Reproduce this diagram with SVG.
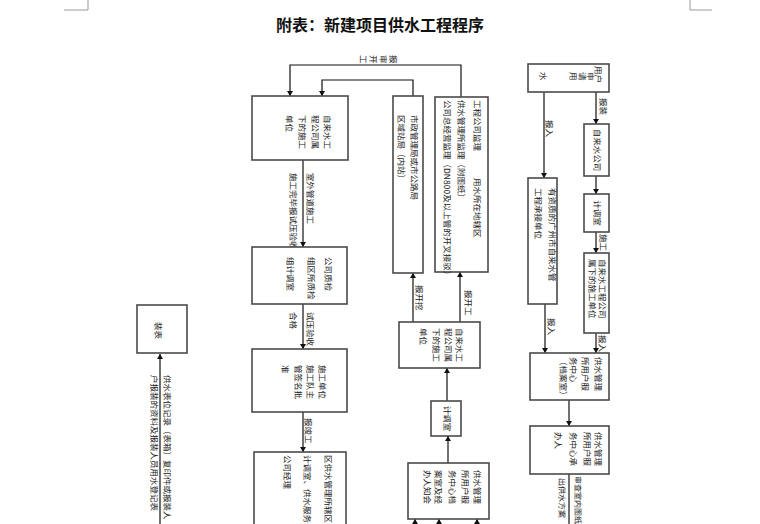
<svg xmlns="http://www.w3.org/2000/svg" width="760" height="524" viewBox="0 0 760 524">
<style>
.bx{fill:#fff;stroke:#4a4a4a;stroke-width:1.6}
.c{fill:none;stroke:#111;stroke-width:1.2}
.t{font-family:"Noto Sans CJK SC","Liberation Sans",sans-serif;font-size:8.5px;fill:#222;text-rendering:geometricPrecision}
.s{font-size:8px}
.title{font-family:"Noto Sans CJK SC","Liberation Sans",sans-serif;font-size:16px;font-weight:bold;fill:#111}
.corner{fill:none;stroke:#999;stroke-width:1}
</style>
<defs>
<marker id="ah" markerUnits="userSpaceOnUse" markerWidth="6" markerHeight="6" refX="5" refY="3" orient="auto">
<path d="M0,0 L5,3 L0,6 z" fill="#111"/>
</marker>
</defs>
<rect width="760" height="524" fill="#fff"/>
<path class="corner" d="M88,0 V10 H64 M690,0 V10 H712"/>
<text class="title" x="380" y="31" text-anchor="middle">附表：新建项目供水工程程序</text>

<g id="connectors">
<path class="c" d="M461,97 V65 H290 V96" marker-end="url(#ah)"/>
<path class="c" d="M413,96 V80 H322 V96" marker-end="url(#ah)"/>
<path class="c" d="M303,160 V247" marker-end="url(#ah)"/>
<path class="c" d="M303,304 V349" marker-end="url(#ah)"/>
<path class="c" d="M303,412 V452" marker-end="url(#ah)"/>
<path class="c" d="M413,322 V273" marker-end="url(#ah)"/>
<path class="c" d="M460,322 V272" marker-end="url(#ah)"/>
<path class="c" d="M447,401 V368" marker-end="url(#ah)"/>
<path class="c" d="M448,463 V436" marker-end="url(#ah)"/>
<path class="c" d="M415,526 V519" marker-end="url(#ah)"/>
<path class="c" d="M439,526 V519" marker-end="url(#ah)"/>
<path class="c" d="M477,526 V519" marker-end="url(#ah)"/>
<path class="c" d="M544,92 V178" marker-end="url(#ah)"/>
<path class="c" d="M596,92 V124" marker-end="url(#ah)"/>
<path class="c" d="M596,176 V194" marker-end="url(#ah)"/>
<path class="c" d="M596,232 V253" marker-end="url(#ah)"/>
<path class="c" d="M545,304 V353" marker-end="url(#ah)"/>
<path class="c" d="M596,333 V353" marker-end="url(#ah)"/>
<path class="c" d="M569,400 V426" marker-end="url(#ah)"/>
<path class="c" d="M569,474 V526"/>
<path class="c" d="M160,526 V354" marker-end="url(#ah)"/>
<text class="t" transform="translate(390,55) rotate(90)"><tspan x="0" y="0">报</tspan><tspan x="0" y="10">审</tspan><tspan x="0" y="20">开</tspan><tspan x="0" y="30">工</tspan></text>
<text class="t" transform="translate(307,173) rotate(90)">室外管道施工</text>
<text class="t" transform="translate(290,173) rotate(90)">施工完毕报试压验收</text>
<text class="t" transform="translate(307,312) rotate(90)">试压验收</text>
<text class="t" transform="translate(290,312) rotate(90)">合格</text>
<text class="t" transform="translate(305,418) rotate(90)">报竣工</text>
<text class="t" transform="translate(416,285) rotate(90)">报开挖</text>
<text class="t" transform="translate(465,290) rotate(90)">报开工</text>
<text class="t" transform="translate(546,120) rotate(90)">报入</text>
<text class="t" transform="translate(600,98) rotate(90)">报装</text>
<text class="t" transform="translate(600,234) rotate(90)">施工</text>
<text class="t" transform="translate(548,318) rotate(90)">报入</text>
<text class="t" transform="translate(599,335) rotate(90)">报入</text>
<text class="t s" transform="translate(575,476) rotate(90)">审查室内图纸</text>
<text class="t s" transform="translate(559,478) rotate(90)">出供水方案</text>
<text class="t" transform="translate(164,375) rotate(90)">供水表位记录（表箱）复印件或报装人</text>
<text class="t" transform="translate(151,375) rotate(90)">户报装的资料及报装人员用水登记表</text>
</g>

<g id="node-a">
<rect class="bx" x="252" y="96" width="96" height="64"/>
<text class="t" transform="translate(324,115) rotate(90)"><tspan x="0" y="0">自来水工</tspan><tspan x="0" y="12">程公司属</tspan><tspan x="0" y="25">下的施工</tspan><tspan x="0" y="38">单位</tspan></text>
</g>
<g id="node-b">
<rect class="bx" x="252" y="247" width="95" height="57"/>
<text class="t" transform="translate(325,257) rotate(90)"><tspan x="0" y="0">公司质检</tspan><tspan x="0" y="17">组区所质检</tspan><tspan x="0" y="38">组计调室</tspan></text>
</g>
<g id="node-c">
<rect class="bx" x="252" y="349" width="95" height="63"/>
<text class="t" transform="translate(318.5,365) rotate(90)"><tspan x="0" y="0">施工单位</tspan><tspan x="0" y="11.7">施工队主</tspan><tspan x="0" y="23.4">管签名批</tspan><tspan x="0" y="36.7">准</tspan></text>
</g>
<g id="node-l">
<rect class="bx" x="254" y="452" width="92" height="80"/>
<text class="t" transform="translate(325,455) rotate(90)"><tspan x="0" y="0">区供水管理所辖区</tspan><tspan x="0" y="21">计调室、供水服务</tspan><tspan x="0" y="41">公司经理</tspan></text>
</g>
<g id="node-d">
<rect class="bx" x="393" y="96" width="30" height="177"/>
<text class="t" transform="translate(411,115) rotate(90)"><tspan x="0" y="0">市政管理局或市公路局</tspan><tspan x="0" y="12.6">区域站局（内站）</tspan></text>
</g>
<g id="node-e">
<rect class="bx" x="435" y="97" width="53" height="175"/>
<text class="t" transform="translate(473.5,100) rotate(90)"><tspan x="0" y="0">工程公司监理</tspan><tspan x="78" y="0">用水所在地辖区</tspan><tspan x="0" y="15.7">供水管理所监理（附图纸）</tspan><tspan x="0" y="30">公司总经营监理（DN800及以上管的开叉接驳）</tspan></text>
</g>
<g id="node-k">
<rect class="bx" x="399" y="322" width="81" height="46"/>
<text class="t" transform="translate(455.8,328) rotate(90)"><tspan x="0" y="0">自来水工</tspan><tspan x="0" y="11">程公司属</tspan><tspan x="0" y="23">下的施工</tspan><tspan x="0" y="36">单位</tspan></text>
</g>
<g id="node-jd1">
<rect class="bx" x="431" y="401" width="30" height="35"/>
<text class="t" text-anchor="middle" transform="translate(443.5,418.5) rotate(90)">计调室</text>
</g>
<g id="node-j">
<rect class="bx" x="408" y="463" width="81" height="56"/>
<text class="t" transform="translate(473.5,470) rotate(90)"><tspan x="0" y="0">供水管理</tspan><tspan x="0" y="11.7">所用户服</tspan><tspan x="0" y="25">务中心档</tspan><tspan x="0" y="38.4">案室及经</tspan><tspan x="0" y="50">办人知会</tspan></text>
</g>
<g id="node-user">
<rect class="bx" x="528" y="64" width="81" height="28"/>
<text class="t" transform="translate(595,66) rotate(90)"><tspan x="0" y="0">用户</tspan><tspan x="6" y="8">申</tspan><tspan x="6" y="16">请</tspan><tspan x="6" y="25">用</tspan><tspan x="6" y="55">水</tspan></text>
</g>
<g id="node-zls">
<rect class="bx" x="584" y="124" width="25" height="52"/>
<text class="t" text-anchor="middle" transform="translate(594,150) rotate(90)">自来水公司</text>
</g>
<g id="node-jd2">
<rect class="bx" x="584" y="194" width="25" height="38"/>
<text class="t" text-anchor="middle" transform="translate(594,213) rotate(90)">计调室</text>
</g>
<g id="node-g">
<rect class="bx" x="584" y="253" width="25" height="80"/>
<text class="t" transform="translate(599,259) rotate(90)"><tspan x="0" y="0">自来水工程公司</tspan><tspan x="0" y="10">属下的施工单位</tspan></text>
</g>
<g id="node-f">
<rect class="bx" x="528" y="178" width="29" height="126"/>
<text class="t" transform="translate(549,188) rotate(90)"><tspan x="0" y="0">有资质的广州市自来水管</tspan><tspan x="0" y="14">工程承接单位</tspan></text>
</g>
<g id="node-h">
<rect class="bx" x="530" y="353" width="79" height="47"/>
<text class="t" transform="translate(595,357) rotate(90)"><tspan x="0" y="0">供水管理</tspan><tspan x="0" y="13">所用户服</tspan><tspan x="0" y="25">务中心</tspan><tspan x="0" y="35">（档案室）</tspan></text>
</g>
<g id="node-i">
<rect class="bx" x="530" y="426" width="79" height="48"/>
<text class="t" transform="translate(595,432) rotate(90)"><tspan x="0" y="0">供水管理</tspan><tspan x="0" y="11">所用户服</tspan><tspan x="0" y="25">务中心承</tspan><tspan x="0" y="40">办人</tspan></text>
</g>
<g id="node-zb">
<rect class="bx" x="137" y="305" width="50" height="48"/>
<text class="t" transform="translate(155,322) rotate(90)">装表</text>
</g>
</svg>
